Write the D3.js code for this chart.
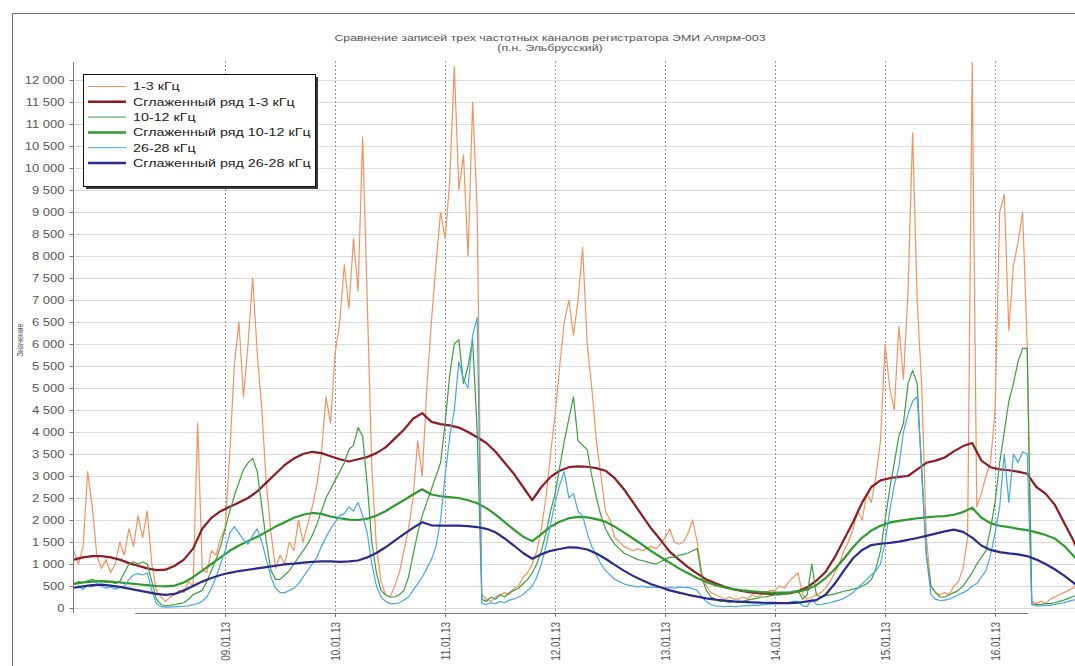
<!DOCTYPE html>
<html>
<head>
<meta charset="utf-8">
<script src="https://cdn.jsdelivr.net/npm/d3@7"></script>
<style>
  body { margin: 0; background: #fff; }
  svg { display: block; font-family: "Liberation Sans", Arial, sans-serif; }
</style>
</head>
<body>
<script>
// hours counted from 09.01.13 00:00
// raw channels are read once per hour, smoothed rows once per two hours
var rawHours = d3.range(-33, 187);
var smoothHours = d3.range(-33, 188, 2);

var raw13 = [
  1300, 1000, 1400, 3100, 2300, 1200, 900, 1100, 800, 1000,
  1500, 1200, 1800, 1400, 2100, 1600, 2200, 1000, 400, 250,
  150, 250, 300, 400, 350, 600, 500, 4200, 900, 800,
  1300, 1200, 1600, 1800, 3500, 5500, 6500, 4800, 6000, 7500,
  5800, 4500, 2800, 1700, 900, 1200, 1000, 1500, 1300, 2000,
  1500, 1900, 2300, 2800, 3500, 4800, 4200, 5800, 6500, 7800,
  6800, 8400, 7200, 10700, 7000, 3200, 1400, 600, 300, 250,
  500, 800, 1300, 1800, 2500, 3800, 3000, 5000, 6500, 7800,
  9000, 8400, 9700, 12300, 9500, 10300, 8000, 11500, 9000, 300,
  200, 150, 250, 300, 350, 300, 450, 500, 700, 800,
  1000, 1300, 1800, 2500, 3500, 4400, 5500, 6500, 7000, 6200,
  7000, 8200, 6000, 5000, 3800, 3000, 2200, 2000, 1600, 1500,
  1400, 1350, 1300, 1350, 1300, 1350, 1400, 1350, 1450, 1600,
  1800, 1500, 1450, 1500, 1700, 2000, 1500, 800, 500, 350,
  300, 250, 200, 250, 200, 200, 250, 200, 300, 250,
  300, 350, 400, 400, 500, 450, 600, 700, 800, 300,
  200, 250, 300, 350, 450, 600, 800, 1000, 1300, 1500,
  1800, 2200, 2000, 2600, 2400, 3000, 3800, 6000, 5000, 4500,
  6400, 5200, 7200, 10800, 7000, 5000, 1600, 500, 350, 300,
  350, 300, 500, 600, 900, 1600, 12400, 2300, 2600, 3000,
  3300, 4500, 9000, 9400, 6300, 7800, 8300, 9000, 6000, 150,
  100, 150, 100, 200, 250, 300, 350, 400, 450, 500
];

var raw1012 = [
  550, 600, 580, 620, 650, 600, 620, 580, 600, 560,
  600, 800, 1000, 1050, 1000, 1050, 1000, 600, 200, 80,
  50, 60, 80, 100, 120, 200, 300, 350, 400, 600,
  850, 1100, 1400, 1800, 2200, 2550, 2850, 3150, 3300, 3400,
  3100, 2300, 1500, 850, 650, 650, 750, 850, 1000, 1150,
  1300, 1450, 1650, 1900, 2200, 2500, 2700, 2900, 3100, 3300,
  3600, 3700, 4100, 3900, 2800, 1500, 800, 400, 300, 250,
  250, 300, 400, 700, 1200, 1700, 2100, 2400, 2700, 3000,
  3300, 4200, 5300, 6000, 6100, 5100, 5500, 6100, 4000, 200,
  150, 250, 200, 300, 250, 350, 400, 450, 550, 650,
  800, 1000, 1300, 1700, 2200, 2600, 3200, 3800, 4300, 4800,
  3800, 3700, 3600, 3000, 2500, 2100, 1800, 1600, 1450, 1350,
  1250, 1200, 1150, 1100, 1080, 1050, 1020, 1000, 1050, 1100,
  1150, 1150, 1200, 1220, 1250, 1300, 1350, 700, 400, 250,
  200, 150, 150, 120, 150, 120, 150, 180, 200, 220,
  250, 250, 280, 300, 300, 320, 350, 380, 400, 200,
  300, 1000, 300, 250, 280, 300, 320, 350, 380, 400,
  430, 450, 500, 550, 650, 900, 1300, 2000, 2700, 3300,
  3900, 4200, 5100, 5400, 5100, 3000, 1200, 500, 350, 250,
  250, 300, 350, 400, 500, 650, 800, 1000, 1150, 1300,
  1800, 2400, 3300, 4000, 4700, 5100, 5600, 5900, 5900, 100,
  80, 80, 100, 100, 120, 150, 180, 220, 260, 300
];

var raw2628 = [
  450, 500, 420, 520, 480, 550, 500, 450, 480, 430,
  470, 500, 650, 750, 780, 750, 800, 400, 100, 30,
  20, 20, 30, 30, 40, 50, 80, 100, 150, 250,
  450, 700, 1000, 1300, 1700, 1850, 1700, 1550, 1450, 1650,
  1800, 1500, 1100, 700, 450, 350, 350, 400, 450, 550,
  700, 850, 1000, 1150, 1400, 1600, 1800, 1950, 2100, 2150,
  2300, 2200, 2400, 2100, 1700, 1000, 500, 250, 150, 100,
  100, 120, 180, 250, 400, 550, 700, 900, 1100, 1400,
  2000, 3000, 3900, 4500, 5600, 5200, 5000, 6200, 6600, 100,
  80, 120, 100, 150, 120, 180, 200, 250, 300, 400,
  500, 700, 1000, 1400, 1900, 2400, 2800, 3100, 2500, 2600,
  2200, 2100, 1700, 1400, 1200, 1000, 850, 750, 650, 600,
  550, 520, 500, 480, 500, 470, 480, 460, 480, 450,
  470, 450, 480, 460, 470, 440, 400, 250, 150, 80,
  50, 40, 30, 40, 30, 40, 50, 50, 60, 60,
  70, 80, 90, 100, 100, 120, 130, 150, 150, 50,
  30, 200, 80, 80, 100, 120, 150, 180, 220, 280,
  350, 450, 550, 650, 750, 850, 1000, 1500, 2200, 2800,
  3200, 4000, 4400, 4700, 4800, 3200, 1200, 300, 200, 170,
  180, 200, 250, 300, 350, 400, 500, 550, 700, 850,
  1200, 1700, 2300, 3500, 2400, 3500, 3300, 3550, 3500, 80,
  50, 50, 60, 60, 80, 100, 120, 150, 180, 200
];

var smooth13 = [
  1100, 1150, 1180, 1180, 1150, 1100, 1020, 960, 900, 860,
  870, 960, 1100, 1350, 1800, 2050, 2200, 2300, 2400, 2500,
  2650, 2850, 3050, 3250, 3400, 3500, 3550, 3520, 3450, 3380,
  3330, 3380, 3430, 3520, 3650, 3850, 4050, 4300, 4430, 4230,
  4180, 4150, 4100, 4000, 3880, 3750, 3550, 3300, 3050, 2750,
  2450, 2750, 2980, 3120, 3200, 3220, 3210, 3180, 3120, 2950,
  2700, 2400, 2100, 1800, 1550, 1280, 1100, 930, 780, 650,
  560, 480, 420, 380, 350, 330, 320, 320, 330, 380,
  470, 620, 820, 1150, 1550, 1950, 2400, 2750, 2900, 2950,
  2980, 3000, 3150, 3300, 3350, 3420, 3560, 3680, 3750, 3350,
  3200, 3150, 3130, 3100, 3050, 2750, 2600, 2350, 1950, 1550,
  1100
];

var smooth1012 = [
  550, 580, 600, 610, 600, 580, 560, 540, 520, 500,
  490, 510, 580, 700, 850, 1000, 1150, 1300, 1420, 1520,
  1620, 1730, 1850, 1950, 2050, 2120, 2160, 2140, 2080, 2040,
  2010, 2000, 2030, 2100, 2200, 2330, 2450, 2580, 2700, 2580,
  2540, 2520, 2500, 2450, 2380, 2270, 2120, 1950, 1780, 1620,
  1520, 1680, 1850, 1960, 2040, 2070, 2060, 2020, 1960, 1850,
  1720, 1580, 1440, 1290, 1160, 1030, 900, 790, 680, 590,
  520, 470, 430, 400, 380, 360, 350, 350, 350, 370,
  420, 520, 680, 880, 1120, 1380, 1600, 1760, 1870, 1940,
  1980, 2010, 2040, 2060, 2080, 2090, 2120, 2180, 2280, 2050,
  1930, 1870, 1840, 1800, 1770, 1720, 1660, 1580, 1420, 1200,
  950
];

var smooth2628 = [
  460, 490, 520, 530, 510, 480, 440, 400, 360, 320,
  300, 320, 400, 500, 600, 680, 750, 800, 840, 870,
  900, 930, 960, 990, 1010, 1030, 1050, 1060, 1060, 1050,
  1060, 1080, 1150, 1250, 1380, 1530, 1680, 1820, 1950, 1880,
  1870, 1870, 1870, 1860, 1840, 1800, 1720, 1580, 1420, 1250,
  1120, 1220, 1300, 1340, 1380, 1370, 1330, 1240, 1120, 980,
  850, 730, 630, 540, 470, 400, 350, 300, 260, 220,
  190, 170, 150, 140, 130, 120, 115, 110, 110, 120,
  150, 180, 300, 550, 850, 1130, 1320, 1430, 1460, 1480,
  1510, 1550, 1590, 1640, 1690, 1740, 1780, 1730, 1600, 1420,
  1320, 1270, 1240, 1220, 1180, 1100, 1000, 880, 740, 580,
  420
];

var seriesNames = [
  "1-3 кГц",
  "Сглаженный ряд 1-3 кГц",
  "10-12 кГц",
  "Сглаженный ряд 10-12 кГц",
  "26-28 кГц",
  "Сглаженный ряд 26-28 кГц"
];
var seriesColors = ["#f4925f", "#8e1c22", "#3c9e3c", "#2f9a2f", "#47a6e6", "#2b2b8c"];
var seriesWidths = [1.2, 2.2, 1.2, 2.2, 1.2, 2.2];

var titleLines = [
  "Сравнение записей трех частотных каналов регистратора ЭМИ Алярм-003",
  "(п.н. Эльбрусский)"
];
var yTitle = "Значение";
var yTicks = d3.range(0, 12001, 500);
var dayTicks = d3.timeDay.range(new Date(2013, 0, 9), new Date(2013, 0, 17));
// the date axis line only covers part of the record
var axisFromHour = -19.6, axisToHour = 175.2;

var series = [
  {hours: rawHours, values: raw13},
  {hours: smoothHours, values: smooth13},
  {hours: rawHours, values: raw1012},
  {hours: smoothHours, values: smooth1012},
  {hours: rawHours, values: raw2628},
  {hours: smoothHours, values: smooth2628}
];

var t0 = new Date(2013, 0, 9);
function hourDate(h) {
  return new Date(t0.getTime() + h * 3600000);
}

var W = 1075, H = 666;
var margin = {top: 58, left: 73, bottom: 58};
var width = 1006;
// the original picture is stretched sideways
var stretch = 1.3;

var svg = d3.select("body").append("svg")
  .attr("width", W)
  .attr("height", H);

// outer frame
svg.append("path")
  .attr("d", "M12.5," + H + "V13.5H" + W)
  .attr("fill", "none")
  .attr("stroke", "#6a6a6a");

var xScale = d3.scaleTime()
  .domain([hourDate(-33.2), hourDate(-33.2 + width / 4.583)])
  .range([margin.left, margin.left + width]);
var yScale = d3.scaleLinear()
  .domain([0, 12500])
  .range([608, 608 - 12500 * 0.044]);

// horizontal grid
svg.append("g")
  .selectAll("line")
  .data(yTicks)
  .enter().append("line")
  .attr("x1", margin.left)
  .attr("x2", W)
  .attr("y1", function (d) { return Math.round(yScale(d)) + 0.5; })
  .attr("y2", function (d) { return Math.round(yScale(d)) + 0.5; })
  .attr("stroke", "#d9d9d9");

// vertical dashed grid at each day
svg.append("g")
  .selectAll("line")
  .data(dayTicks)
  .enter().append("line")
  .attr("x1", function (d) { return Math.round(xScale(d)) + 0.5; })
  .attr("x2", function (d) { return Math.round(xScale(d)) + 0.5; })
  .attr("y1", 61)
  .attr("y2", 613)
  .attr("stroke", "#9a9a9a")
  .attr("stroke-dasharray", "2,2");

// lines
svg.append("clipPath").attr("id", "plot-clip")
  .append("rect")
  .attr("x", margin.left).attr("y", 50)
  .attr("width", W - margin.left).attr("height", 565);

var line = d3.line()
  .x(function (d) { return xScale(hourDate(d[0])); })
  .y(function (d) { return yScale(d[1]); });

svg.append("g")
  .attr("clip-path", "url(#plot-clip)")
  .selectAll("path")
  .data(series)
  .enter().append("path")
  .attr("fill", "none")
  .attr("stroke", function (d, i) { return seriesColors[i]; })
  .attr("stroke-width", function (d, i) { return seriesWidths[i]; })
  .attr("stroke-linejoin", "round")
  .attr("d", function (s) {
    return line(s.hours.map(function (h, i) { return [h, s.values[i]]; }));
  });

// y axis
var fmt = d3.formatLocale({decimal: ",", thousands: " ", grouping: [3], currency: ["", ""]}).format(",d");
var yAxis = svg.append("g")
  .attr("transform", "translate(" + (margin.left + 0.5) + ",0)")
  .call(d3.axisLeft(yScale).tickValues(yTicks).tickSize(4).tickPadding(3).tickFormat(fmt));
yAxis.select(".domain").remove();
yAxis.selectAll("line").attr("stroke", "#777");
yAxis.selectAll("text")
  .attr("font-size", 10)
  .attr("font-family", "Liberation Sans, Arial, sans-serif")
  .attr("fill", "#555")
  .attr("transform", "scale(" + stretch + ",1)");
svg.append("line")
  .attr("x1", margin.left + 0.5).attr("x2", margin.left + 0.5)
  .attr("y1", 62).attr("y2", 613)
  .attr("stroke", "#777");

// x axis
svg.append("line")
  .attr("x1", xScale(hourDate(axisFromHour)))
  .attr("x2", xScale(hourDate(axisToHour)))
  .attr("y1", 613.5).attr("y2", 613.5)
  .attr("stroke", "#777");

var dayFmt = d3.timeFormat("%d.%m.%y");
var xTick = svg.append("g")
  .selectAll("g")
  .data(dayTicks)
  .enter().append("g")
  .attr("transform", function (d) { return "translate(" + (Math.round(xScale(d)) + 0.5) + ",0)"; });
xTick.append("line")
  .attr("y1", 613).attr("y2", 617)
  .attr("stroke", "#777");
xTick.append("text")
  .attr("transform", "translate(0,622) scale(" + stretch + ",1) rotate(-90)")
  .attr("dy", "0.35em")
  .attr("text-anchor", "end")
  .attr("font-size", 10)
  .attr("fill", "#555")
  .text(function (d) { return dayFmt(d); });

// axis title
svg.append("text")
  .attr("transform", "translate(20,340) scale(" + stretch + ",1) rotate(-90)")
  .attr("text-anchor", "middle")
  .attr("dy", "0.35em")
  .attr("font-size", 7.5)
  .attr("fill", "#555")
  .text(yTitle);

// chart title
svg.append("g")
  .selectAll("text")
  .data(titleLines)
  .enter().append("text")
  .attr("transform", function (d, i) { return "translate(550," + (41 + i * 10) + ") scale(" + stretch + ",1)"; })
  .attr("text-anchor", "middle")
  .attr("font-size", 9.5)
  .attr("fill", "#555")
  .text(function (d) { return d; });

// legend
var legend = svg.append("g").attr("transform", "translate(83,74)");
legend.append("rect")
  .attr("x", 3).attr("y", 3)
  .attr("width", 232).attr("height", 112)
  .attr("fill", "#3a3a3a");
legend.append("rect")
  .attr("x", 0.5).attr("y", 0.5)
  .attr("width", 232).attr("height", 112)
  .attr("fill", "#fff")
  .attr("stroke", "#111");

var item = legend.selectAll(".item")
  .data(seriesNames)
  .enter().append("g")
  .attr("class", "item")
  .attr("transform", function (d, i) { return "translate(0," + (12.5 + i * 15.3) + ")"; });
item.append("line")
  .attr("x1", 5).attr("x2", 43)
  .attr("stroke", function (d, i) { return seriesColors[i]; })
  .attr("stroke-width", function (d, i) { return seriesWidths[i] < 2 ? 1 : 2.5; });
item.append("text")
  .attr("transform", "translate(50,0) scale(" + stretch + ",1)")
  .attr("dy", "0.36em")
  .attr("font-size", 11)
  .attr("fill", "#222")
  .text(function (d) { return d; });
</script>
</body>
</html>
